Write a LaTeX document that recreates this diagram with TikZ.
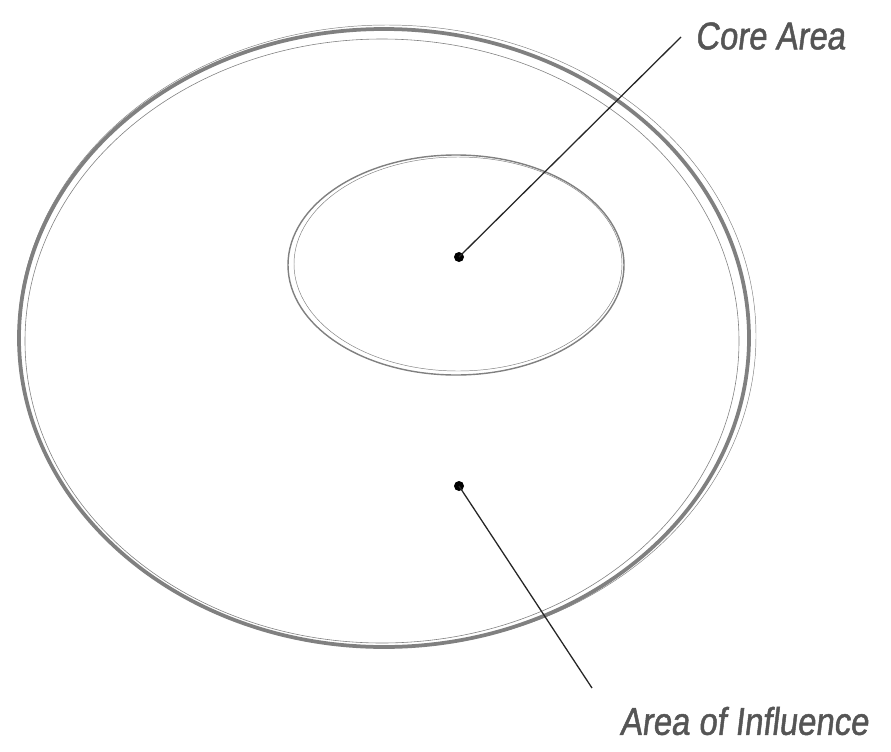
\documentclass[tikz,border=0pt]{standalone}
\usepackage{fontspec}
\newfontfamily\handfont[FakeStretch=0.85,FakeSlant=0.12,FakeBold=1.2]{Liberation Sans}
\usetikzlibrary{positioning}
\definecolor{pencil}{RGB}{128,128,128}
\definecolor{inkgray}{RGB}{85,85,85}

\begin{document}
\begin{tikzpicture}[x=0.03cm,y=-0.03cm,
    sketch/.style={draw=pencil,line cap=round},
    leader/.style={draw=black!85,line width=1.1pt},
    spot/.style={circle,fill=black,inner sep=0pt,minimum size=3mm},
    tag/.style={text=inkgray,font=\handfont\fontsize{33}{36}\selectfont}]
        \useasboundingbox (0,0) rectangle (891,751);
        % outer ring, area of influence
        \draw[sketch,line width=3.2pt] (384,338) ellipse [x radius=365, y radius=309];
        \draw[sketch,line width=0.5pt] (382,341) ellipse [x radius=357, y radius=302];
        \draw[sketch,line width=0.4pt] (387,336) ellipse [x radius=369, y radius=311];
        % inner ring, core area
        \draw[sketch,line width=1.2pt] (456,265) ellipse [x radius=168, y radius=110];
        \draw[sketch,line width=0.4pt] (458,264) ellipse [x radius=164, y radius=107];
        % dots
        \node[spot] (core) at (459,257) {};
        \node[spot] (infl) at (459,486) {};
        % labels
        \node[tag] (coretag) at (770,36) {Core Area};
        \node[tag] (infltag) at (744,721) {Area of Influence};
        \coordinate (coreend) at (681,37);
        \coordinate (inflend) at (592,688);
        \draw[leader] (core.center) -- (coreend);
        \draw[leader] (infl.center) -- (inflend);
      \end{tikzpicture}
\end{document}
